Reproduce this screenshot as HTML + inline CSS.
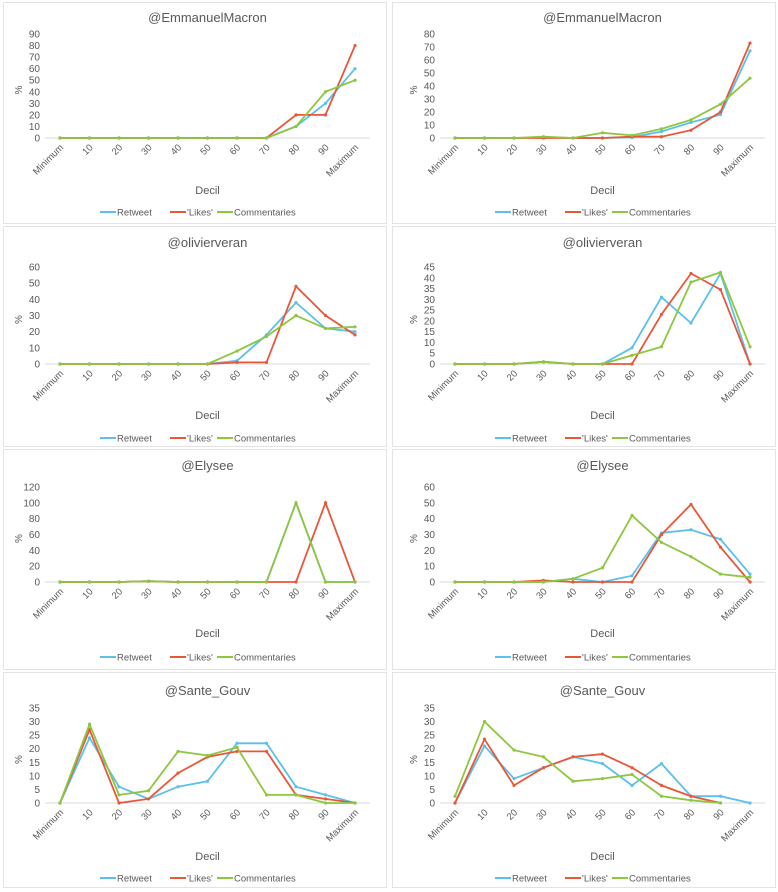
<!DOCTYPE html>
<html><head><meta charset="utf-8"><style>
html,body{margin:0;padding:0;background:#fff;}
svg{display:block;font-family:"Liberation Sans",sans-serif;}
</style></head><body>
<svg id="c" width="778" height="892"></svg>
<script>
const categories=["Minimum","10","20","30","40","50","60","70","80","90","Maximum"];
const seriesNames=["Retweet","'Likes'","Commentaries"];
const p1Retweet=[0,0,0,0,0,0,0,0,10,30,60];
const p1Likes=[0,0,0,0,0,0,0,0,20,20,80];
const p1Comm=[0,0,0,0,0,0,0,0,10,40,50];
const p2Retweet=[0,0,0,0.5,0,0,0.5,5,12,18,67];
const p2Likes=[0,0,0,0,0,0,1,1,6,20,73];
const p2Comm=[0,0,0,1,0,4,2,7,14,26,46];
const p3Retweet=[0,0,0,0,0,0,2,18,38,22,20];
const p3Likes=[0,0,0,0,0,0,1,1,48,30,18];
const p3Comm=[0,0,0,0,0,0,8,17,30,22,23];
const p4Retweet=[0,0,0,1,0,0,7.5,31,19,42,0];
const p4Likes=[0,0,0,1,0,0,0,23,42,34.5,0];
const p4Comm=[0,0,0,1,0,0,4,8,38,42.5,8];
const p5Retweet=[0,0,0,1,0,0,0,0,100,0,0];
const p5Likes=[0,0,0,1,0,0,0,0,0,100,0];
const p5Comm=[0,0,0,1,0,0,0,0,100,0,0];
const p6Retweet=[0,0,0,0,2,0,4,31,33,27,5];
const p6Likes=[0,0,0,1,0,0,0,30,49,22,0];
const p6Comm=[0,0,0,0,2,9,42,25,16,5,3];
const p7Retweet=[0,24,6,1.5,6,8,22,22,6,3,0];
const p7Likes=[0,27,0,1.5,11,17,19,19,3,1.5,0];
const p7Comm=[0,29,3,4.5,19,17.5,20.5,3,3,0,0];
const p8Retweet=[0,21,9,13,17,14.5,6.5,14.5,2.5,2.5,0];
const p8Likes=[0,23.5,6.5,13,17,18,13,6.5,2.5,0,null];
const p8Comm=[2.5,30,19.5,17,8,9,10.5,2.5,1,0,null];
const titles=["@EmmanuelMacron","@EmmanuelMacron","@olivierveran","@olivierveran","@Elysee","@Elysee","@Sante_Gouv","@Sante_Gouv"];
const yMax=[90,80,60,45,120,60,35,35];
const yStep=[10,10,10,5,20,10,5,5];

const colors=["#5bc0eb","#e8573a","#8dc63f"];
const data=[[p1Retweet,p1Likes,p1Comm],[p2Retweet,p2Likes,p2Comm],[p3Retweet,p3Likes,p3Comm],[p4Retweet,p4Likes,p4Comm],
[p5Retweet,p5Likes,p5Comm],[p6Retweet,p6Likes,p6Comm],[p7Retweet,p7Likes,p7Comm],[p8Retweet,p8Likes,p8Comm]];
const rowZero=[138,364,582,803],rowTitle=[17,242,465,690],rowDecil=[190,415,633,856],rowLeg=[212,438,657,878],rowTop=[2,226,449,672];
const svg=document.getElementById('c');
const NS="http://www.w3.org/2000/svg";
function mk(tag,attrs,parent,text){const e=document.createElementNS(NS,tag);for(const k in attrs)e.setAttribute(k,attrs[k]);if(text!==undefined)e.textContent=text;parent.appendChild(e);return e;}
for(let p=0;p<8;p++){
  const row=Math.floor(p/2),col=p%2;
  const g=mk('g',{},svg);
  
  
  const bx=col?392:3,bw=383;
  const fr=mk('rect',{x:bx+0.5,y:rowTop[row]+0.5,width:bw,height:(row<3?rowTop[row+1]:890)-rowTop[row]-3,fill:'none',stroke:'#e3e3e3'},g);
  
  const x0=col?455:60,x1=col?750:355;
  const y0=rowZero[row],yTop=y0-104*(row==0?1:0.93);
  const yPix=v=>y0-(v/yMax[p])*(y0-(row==0?34:(row==1?267:(row==2?487:708))));
  const xPix=i=>x0+(x1-x0)*i/(categories.length-1);
  const t=mk('text',{x:(x0+x1)/2,y:rowTitle[row]+5,'text-anchor':'middle','font-size':13,fill:'#595959'},g,titles[p]);
  
  for(let v=0;v<=yMax[p];v+=yStep[p]){
    const tl=mk('text',{x:x0-20,y:yPix(v)+3.5,'text-anchor':'end','font-size':10,fill:'#595959'},g,String(v));
    
  }
  const ax=mk('line',{x1:x0-15,x2:x1+15,y1:y0,y2:y0,stroke:'#d9d9d9'},g);
  
  const yt=mk('text',{x:0,y:0,'text-anchor':'middle','font-size':10,fill:'#595959',transform:`translate(${x0-38},${(y0+yPix(yMax[p]))/2+4}) rotate(-90)`},g,'%');
  
  categories.forEach((c,i)=>{
    const xl=mk('text',{x:0,y:0,'text-anchor':'end','font-size':9.5,fill:'#595959',transform:`translate(${xPix(i)+4},${y0+10}) rotate(-45)`},g,c);
    
  });
  const dt=mk('text',{x:(x0+x1)/2,y:rowDecil[row]+4,'text-anchor':'middle','font-size':11,fill:'#595959'},g,'Decil');
  
  data[p].forEach((s,si)=>{
    let d='';s.forEach((v,i)=>{if(v===null)return;d+=(d?'L':'M')+xPix(i).toFixed(1)+','+yPix(v).toFixed(1);});
    const ln=mk('path',{d:d,fill:'none',stroke:colors[si],'stroke-width':1.8},g);
    
    
    s.forEach((v,i)=>{if(v===null)return;
      const m=mk('circle',{cx:xPix(i),cy:yPix(v),r:1.6,fill:colors[si]},g);
      });
  });
  const lx=col?495:100,ly=rowLeg[row];
  const offs=[0,70,117];
  seriesNames.forEach((n,si)=>{
    const lg=mk('g',{},g);
    
    mk('line',{x1:lx+offs[si],x2:lx+offs[si]+16,y1:ly,y2:ly,stroke:colors[si],'stroke-width':2},lg);
    mk('text',{x:lx+offs[si]+17,y:ly+3.5,'font-size':9.5,fill:'#595959'},lg,n);
  });
}
</script>
</body></html>
